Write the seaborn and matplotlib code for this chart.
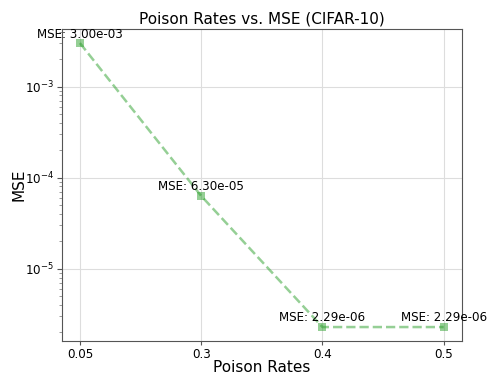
import matplotlib
matplotlib.use("Agg")
import matplotlib.pyplot as plt
import seaborn as sns
import pandas as pd

poison_rates = ["0.05", "0.3", "0.4", "0.5"]
mse_values = [3.00e-03, 6.30e-05, 2.29e-06, 2.29e-06]

df = pd.DataFrame({"Poison Rates": poison_rates, "MSE": mse_values})
df["pos"] = range(len(df))

sns.set_style("whitegrid")
plt.rcParams["font.family"] = ["DejaVu Sans"]
plt.rcParams["text.color"] = "black"
plt.rcParams["axes.labelcolor"] = "black"
plt.rcParams["xtick.color"] = "black"
plt.rcParams["ytick.color"] = "black"

fig, ax = plt.subplots(figsize=(4.94, 3.75), dpi=100)
sns.lineplot(data=df, x="pos", y="MSE", ax=ax, color="#2ca02c", alpha=0.5,
             linestyle="--", linewidth=1.8, marker="s", markersize=6,
             markeredgewidth=0)
ax.set_yscale("log")
ax.set_xticks(df["pos"])
ax.set_xticklabels(poison_rates)
for x, y in zip(df["pos"], df["MSE"]):
    ax.annotate(f"MSE: {y:.2e}", (x, y), textcoords="offset points",
                xytext=(0, 4), ha="center", fontsize=8.6, color="black")
ax.set_title("Poison Rates vs. MSE (CIFAR-10)", fontsize=11, pad=4)
ax.set_xlabel("Poison Rates", fontsize=11, labelpad=-1)
ax.set_ylabel("MSE", fontsize=11, labelpad=-1)
ax.tick_params(axis="both", labelsize=8.6, pad=2)
ax.tick_params(axis="y", which="major", left=True, color="#555555", length=3.5)
ax.tick_params(axis="y", which="minor", left=True, color="#888888", length=2)
ax.tick_params(axis="x", which="major", bottom=True, color="#555555", length=3)
for s in ax.spines.values():
    s.set_color("#555555")
    s.set_linewidth(0.8)
ax.grid(True, color="#dddddd", linewidth=0.8)
ax.grid(False, which="minor")
fig.subplots_adjust(left=0.125, right=0.935, top=0.923, bottom=0.09)
fig.savefig("out.png", dpi=100)
